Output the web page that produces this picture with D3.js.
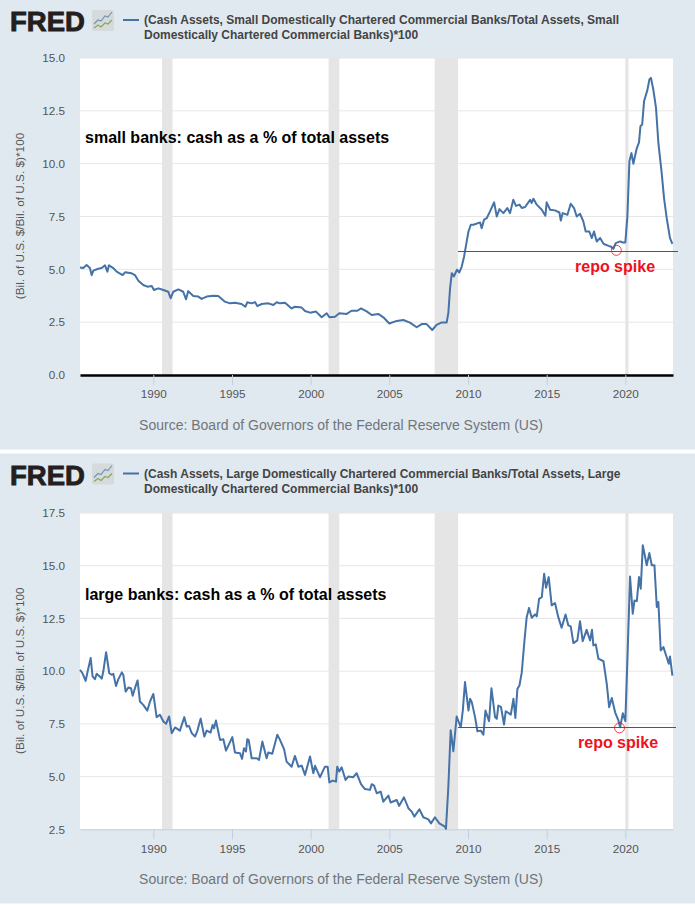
<!DOCTYPE html>
<html>
<head>
<meta charset="utf-8">
<script src="https://cdn.jsdelivr.net/npm/d3@7"></script>
<style>
  html, body { margin: 0; padding: 0; background: #fff; }
  text { font-family: "Liberation Sans", Arial, sans-serif; }
</style>
</head>
<body>
<svg id="graph" width="695" height="905"></svg>
<script>
const yearTicks = [1990, 1995, 2000, 2005, 2010, 2015, 2020];
const recessions = [[1990.55, 1991.22], [2001.14, 2001.82], [2007.88, 2009.37], [2020.0, 2020.2]];

const smallYears = [1985.34, 1985.55, 1985.76, 1985.97, 1986.08, 1986.19, 1986.5, 1986.72, 1986.93, 1987.08, 1987.18, 1987.46, 1987.67, 1988.05, 1988.2, 1988.62, 1988.83, 1989.05, 1989.36, 1989.62, 1989.9, 1990.04, 1990.32, 1990.64, 1990.95, 1991.1, 1991.27, 1991.59, 1991.9, 1992.08, 1992.22, 1992.54, 1992.86, 1993.07, 1993.39, 1993.81, 1994.13, 1994.55, 1994.87, 1995.19, 1995.61, 1995.85, 1995.97, 1996.25, 1996.46, 1996.61, 1996.89, 1997.31, 1997.63, 1997.84, 1998.05, 1998.37, 1998.79, 1999.0, 1999.43, 1999.64, 1999.96, 2000.34, 2000.7, 2001.02, 2001.19, 2001.55, 2001.82, 2002.29, 2002.6, 2002.97, 2003.2, 2003.56, 2003.88, 2004.3, 2004.62, 2005.0, 2005.47, 2005.89, 2006.31, 2006.74, 2007.06, 2007.37, 2007.73, 2008.0, 2008.33, 2008.64, 2008.75, 2008.86, 2008.97, 2009.1, 2009.3, 2009.45, 2009.6, 2009.75, 2009.88, 2010.03, 2010.18, 2010.35, 2010.77, 2010.87, 2011.02, 2011.19, 2011.4, 2011.66, 2011.83, 2012.0, 2012.25, 2012.5, 2012.67, 2012.88, 2013.05, 2013.27, 2013.42, 2013.63, 2013.95, 2014.05, 2014.16, 2014.37, 2014.69, 2014.92, 2015.0, 2015.22, 2015.53, 2015.81, 2015.9, 2016.02, 2016.32, 2016.53, 2016.74, 2016.91, 2017.12, 2017.33, 2017.48, 2017.71, 2017.87, 2018.01, 2018.18, 2018.4, 2018.61, 2018.93, 2019.07, 2019.24, 2019.39, 2019.67, 2019.84, 2020.0, 2020.13, 2020.26, 2020.39, 2020.51, 2020.73, 2020.87, 2020.96, 2021.07, 2021.19, 2021.4, 2021.53, 2021.63, 2021.78, 2021.95, 2022.1, 2022.31, 2022.46, 2022.63, 2022.84, 2022.99];
const smallValues = [5.09, 5.06, 5.2, 5.06, 4.73, 4.94, 5.03, 5.06, 5.19, 4.89, 5.19, 5.06, 4.89, 4.73, 4.86, 4.81, 4.73, 4.46, 4.26, 4.18, 4.21, 4.02, 4.1, 4.02, 3.94, 3.63, 3.94, 4.05, 3.94, 3.58, 3.97, 3.74, 3.71, 3.6, 3.71, 3.75, 3.74, 3.47, 3.39, 3.42, 3.36, 3.23, 3.44, 3.39, 3.45, 3.26, 3.36, 3.39, 3.31, 3.44, 3.39, 3.42, 3.15, 3.23, 3.19, 3.03, 2.95, 3.0, 2.73, 2.92, 2.73, 2.76, 2.92, 2.89, 3.04, 3.04, 3.15, 3.01, 2.84, 2.89, 2.73, 2.44, 2.56, 2.6, 2.48, 2.26, 2.41, 2.41, 2.13, 2.37, 2.49, 2.48, 2.92, 4.1, 4.82, 4.66, 4.98, 4.85, 5.13, 5.6, 6.16, 6.79, 7.11, 7.11, 7.22, 6.95, 7.35, 7.42, 7.74, 8.17, 7.5, 7.85, 7.66, 7.9, 7.66, 8.29, 8.0, 8.06, 7.9, 7.95, 8.29, 8.14, 8.34, 8.06, 7.82, 7.54, 8.17, 7.82, 7.79, 7.69, 7.31, 7.66, 7.58, 8.1, 7.9, 7.5, 7.63, 7.27, 6.79, 6.79, 6.48, 6.79, 6.32, 6.48, 6.21, 6.11, 6.08, 5.97, 6.24, 6.32, 6.27, 6.27, 7.5, 10.11, 10.5, 10.0, 10.74, 11.01, 11.77, 11.85, 12.95, 13.48, 13.98, 14.06, 13.5, 12.64, 10.98, 9.56, 8.37, 7.42, 6.48, 6.21];

const largeYears = [1985.34, 1985.5, 1985.7, 1985.8, 1986.02, 1986.14, 1986.29, 1986.4, 1986.6, 1986.72, 1986.82, 1987.0, 1987.2, 1987.35, 1987.46, 1987.63, 1987.78, 1988.0, 1988.09, 1988.24, 1988.41, 1988.58, 1988.69, 1988.83, 1989.0, 1989.15, 1989.36, 1989.62, 1989.79, 1990.0, 1990.1, 1990.21, 1990.42, 1990.64, 1990.81, 1991.0, 1991.17, 1991.38, 1991.69, 1991.97, 1992.12, 1992.27, 1992.44, 1992.65, 1992.8, 1993.01, 1993.24, 1993.39, 1993.64, 1993.77, 1993.86, 1993.98, 1994.24, 1994.45, 1994.62, 1995.02, 1995.19, 1995.51, 1995.64, 1995.76, 1995.89, 1995.97, 1996.06, 1996.25, 1996.57, 1996.72, 1996.93, 1997.2, 1997.31, 1997.56, 1997.88, 1998.05, 1998.31, 1998.47, 1998.79, 1999.0, 1999.22, 1999.43, 1999.64, 1999.96, 2000.17, 2000.28, 2000.59, 2000.91, 2001.08, 2001.19, 2001.4, 2001.61, 2001.69, 2001.82, 2001.97, 2002.22, 2002.39, 2002.71, 2002.92, 2003.2, 2003.45, 2003.77, 2003.88, 2004.03, 2004.2, 2004.45, 2004.62, 2004.94, 2005.08, 2005.47, 2005.62, 2005.93, 2006.21, 2006.42, 2006.59, 2006.91, 2007.16, 2007.48, 2007.65, 2007.9, 2008.18, 2008.53, 2008.6, 2008.75, 2008.9, 2009.07, 2009.28, 2009.54, 2009.67, 2009.81, 2010.03, 2010.13, 2010.24, 2010.45, 2010.6, 2010.81, 2010.98, 2011.11, 2011.34, 2011.49, 2011.72, 2011.83, 2011.93, 2012.1, 2012.29, 2012.4, 2012.72, 2012.89, 2013.01, 2013.14, 2013.27, 2013.42, 2013.59, 2013.73, 2013.88, 2014.05, 2014.26, 2014.37, 2014.52, 2014.69, 2014.84, 2014.96, 2015.13, 2015.32, 2015.53, 2015.74, 2015.95, 2016.2, 2016.38, 2016.53, 2016.7, 2016.95, 2017.12, 2017.29, 2017.54, 2017.76, 2017.88, 2017.97, 2018.12, 2018.29, 2018.61, 2018.82, 2018.97, 2019.14, 2019.35, 2019.56, 2019.67, 2019.84, 2020.0, 2020.13, 2020.3, 2020.47, 2020.58, 2020.73, 2020.87, 2020.98, 2021.11, 2021.36, 2021.53, 2021.68, 2021.85, 2022.0, 2022.1, 2022.25, 2022.42, 2022.63, 2022.76, 2022.84, 2022.99];
const largeValues = [10.06, 9.9, 9.54, 9.9, 10.62, 9.75, 9.62, 9.87, 9.75, 9.64, 9.98, 10.9, 9.9, 9.83, 9.87, 9.3, 9.62, 9.94, 9.83, 9.03, 9.22, 9.19, 8.83, 9.19, 9.56, 8.56, 8.4, 8.13, 8.56, 8.92, 8.4, 7.82, 7.93, 7.61, 7.5, 7.85, 7.06, 7.33, 7.18, 7.82, 7.37, 7.4, 7.06, 6.9, 7.17, 7.75, 6.9, 7.18, 7.09, 7.45, 7.29, 7.66, 6.74, 6.77, 6.23, 6.87, 6.14, 6.11, 5.84, 6.34, 6.19, 6.77, 6.74, 5.87, 5.87, 5.79, 6.66, 5.87, 6.14, 6.08, 6.98, 6.74, 6.3, 5.71, 5.47, 5.98, 5.47, 5.52, 5.08, 5.95, 5.16, 5.51, 4.97, 5.47, 5.47, 4.72, 4.81, 4.76, 5.47, 5.24, 5.44, 4.84, 5.0, 4.97, 5.16, 4.64, 4.41, 4.37, 4.64, 4.57, 4.21, 4.29, 3.81, 4.1, 3.77, 3.89, 3.61, 4.02, 3.5, 3.34, 3.1, 3.45, 3.07, 2.97, 2.78, 3.07, 2.78, 2.63, 2.52, 4.5, 7.2, 6.2, 7.85, 7.34, 8.13, 9.48, 8.13, 8.69, 8.53, 7.82, 7.15, 7.18, 6.99, 8.13, 7.63, 9.19, 7.82, 7.74, 8.37, 8.29, 7.47, 8.1, 7.94, 8.69, 7.78, 9.16, 9.32, 9.95, 11.46, 12.56, 13.0, 12.53, 12.69, 12.6, 13.43, 13.51, 14.62, 13.96, 14.46, 13.12, 13.23, 12.56, 12.06, 12.69, 12.17, 12.12, 11.33, 11.46, 12.37, 11.42, 11.96, 11.46, 11.96, 11.22, 11.27, 10.59, 10.47, 9.4, 8.29, 8.73, 8.05, 7.66, 7.34, 8.0, 7.63, 10.51, 14.49, 12.72, 13.35, 13.32, 14.46, 13.91, 15.97, 15.02, 15.6, 15.02, 15.02, 13.04, 13.28, 10.98, 11.14, 10.66, 10.35, 10.7, 9.79];

const smallTicks = [0, 2.5, 5, 7.5, 10, 12.5, 15];
const largeTicks = [2.5, 5, 7.5, 10, 12.5, 15, 17.5];

const smallLegend = ['(Cash Assets, Small Domestically Chartered Commercial Banks/Total Assets, Small', 'Domestically Chartered Commercial Banks)*100'];
const largeLegend = ['(Cash Assets, Large Domestically Chartered Commercial Banks/Total Assets, Large', 'Domestically Chartered Commercial Banks)*100'];

// logo sparkline, in icon pixels
const iconBlue = [[2, 14], [6, 10], [9, 11], [13, 6], [16, 7], [20, 2]];
const iconGreen = [[2, 18], [6, 15], [9, 17], [13, 13], [16, 14], [20, 10]];

const bg = '#e1e9f0';
const lineColor = '#4572a7';
const red = '#ee1122';

const svg = d3.select('#graph');

function panel(o) {
  const g = svg.append('g').attr('transform', `translate(0,${o.top})`);
  g.append('rect').attr('width', 695).attr('height', o.height).attr('fill', bg);

  // logo
  g.append('text').attr('x', 10).attr('y', 31).attr('font-size', 27.5).attr('font-weight', 'bold')
    .attr('fill', '#231f20').attr('stroke', '#231f20').attr('stroke-width', 0.9).text('FRED');
  const icon = g.append('g').attr('transform', 'translate(92,10)');
  icon.append('rect').attr('width', 22).attr('height', 21).attr('rx', 2).attr('fill', '#d5dadb');
  const iconLine = d3.line();
  icon.append('path').attr('d', iconLine(iconBlue)).attr('fill', 'none').attr('stroke', '#6f93b5').attr('stroke-width', 1.1);
  icon.append('path').attr('d', iconLine(iconGreen)).attr('fill', 'none').attr('stroke', '#84a85a').attr('stroke-width', 1.1);

  // legend
  g.append('line').attr('x1', 123).attr('x2', 139).attr('y1', 20).attr('y2', 20)
    .attr('stroke', lineColor).attr('stroke-width', 2);
  g.selectAll('.legend').data(o.legend).enter().append('text')
    .attr('class', 'legend')
    .attr('x', 144).attr('y', (d, i) => 24 + i * 15)
    .attr('font-size', 12).attr('font-weight', 'bold').attr('fill', '#444')
    .text(d => d);

  const x = d3.scaleLinear().domain([1985.34, 2023.03]).range([80, 673]);
  const y = d3.scaleLinear().domain(o.domain).range([o.bottom, o.plotTop]);

  g.append('rect').attr('x', 80).attr('y', o.plotTop).attr('width', 593)
    .attr('height', o.bottom - o.plotTop).attr('fill', '#fff');

  // gridlines
  g.selectAll('.grid').data(o.ticks.slice(1)).enter().append('line')
    .attr('x1', 80).attr('x2', 673)
    .attr('y1', d => y(d)).attr('y2', d => y(d))
    .attr('stroke', '#e6e6e6').attr('stroke-width', 1);

  // recession bands
  g.selectAll('.recession').data(recessions).enter().append('rect')
    .attr('x', d => x(d[0])).attr('width', d => x(d[1]) - x(d[0]))
    .attr('y', o.plotTop).attr('height', o.bottom - o.plotTop)
    .attr('fill', '#e5e5e5');

  // axes
  const xAxis = d3.axisBottom(x).tickValues(yearTicks).tickFormat(d3.format('d')).tickSize(10).tickSizeOuter(0);
  const xg = g.append('g').attr('transform', `translate(0,${o.bottom})`).call(xAxis);
  xg.select('.domain').attr('stroke', o.baseColor).attr('stroke-width', o.baseWidth);
  xg.selectAll('.tick line').attr('stroke', '#c0d0e0');
  xg.selectAll('.tick text').attr('font-size', 11.7).attr('fill', '#555').attr('font-family', null).attr('y', 15);

  const yAxis = d3.axisLeft(y).tickValues(o.ticks).tickFormat(d3.format('.1f')).tickSize(0);
  const yg = g.append('g').attr('transform', 'translate(80,0)').call(yAxis);
  yg.select('.domain').remove();
  yg.selectAll('.tick text').attr('font-size', 11.7).attr('fill', '#555').attr('font-family', null).attr('x', -15);

  g.append('text')
    .attr('transform', `translate(24,${(o.bottom + o.plotTop) / 2 - 0.5}) rotate(-90)`)
    .attr('text-anchor', 'middle').attr('font-size', 11.8).attr('fill', '#555')
    .text('(Bil. of U.S. $/Bil. of U.S. $)*100');

  // series
  const line = d3.line().x(d => x(d[0])).y(d => y(d[1]));
  g.append('path').datum(d3.zip(o.years, o.values))
    .attr('d', line).attr('fill', 'none')
    .attr('stroke', lineColor).attr('stroke-width', 2).attr('stroke-linejoin', 'round');

  g.append('text').attr('x', 341).attr('y', o.bottom + 55).attr('text-anchor', 'middle')
    .attr('font-size', 14).attr('fill', '#70757a')
    .text('Source: Board of Governors of the Federal Reserve System (US)');

  // annotations
  g.append('text').attr('x', 85).attr('y', o.noteY).attr('font-size', 16).attr('font-weight', 'bold')
    .attr('fill', '#000').text(o.note);
  g.append('line').attr('x1', x(2009.37)).attr('x2', x(o.repoEnd))
    .attr('y1', y(o.repoLevel)).attr('y2', y(o.repoLevel))
    .attr('stroke', red).attr('stroke-width', 1).attr('shape-rendering', 'crispEdges');
  g.append('circle').attr('cx', x(o.repoYear)).attr('cy', y(o.repoDot)).attr('r', 5)
    .attr('fill', 'none').attr('stroke', red).attr('stroke-width', 0.8);
  g.append('text').attr('x', o.repoLabelX).attr('y', o.repoLabelY).attr('font-size', 16)
    .attr('font-weight', 'bold').attr('fill', red).text('repo spike');
}

panel({
  top: 0, height: 449.5, plotTop: 58, bottom: 375, domain: [0, 15], ticks: smallTicks,
  legend: smallLegend, years: smallYears, values: smallValues,
  baseColor: '#000', baseWidth: 2.5,
  note: 'small banks: cash as a % of total assets', noteY: 143,
  repoLevel: 5.86, repoEnd: 2023.35, repoYear: 2019.43, repoDot: 5.9,
  repoLabelX: 575, repoLabelY: 272
});

panel({
  top: 453.5, height: 450, plotTop: 59.5, bottom: 375.8, domain: [2.5, 17.5], ticks: largeTicks,
  legend: largeLegend, years: largeYears, values: largeValues,
  baseColor: '#c0d0e0', baseWidth: 1,
  note: 'large banks: cash as a % of total assets', noteY: 146,
  repoLevel: 7.31, repoEnd: 2023.22, repoYear: 2019.63, repoDot: 7.31,
  repoLabelX: 578, repoLabelY: 294
});
</script>
</body>
</html>
